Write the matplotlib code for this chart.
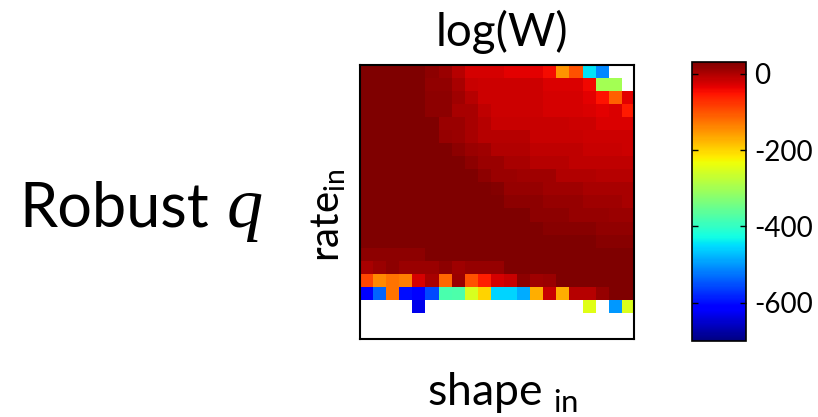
import numpy as np
import matplotlib.pyplot as plt

plt.rcParams['font.family'] = ['Lato', 'DejaVu Sans']
plt.rcParams['mathtext.fontset'] = 'custom'
plt.rcParams['mathtext.rm'] = 'Lato'

nan = np.nan

# log(W) over a 21 x 21 grid of (rate_in, shape_in); top row first
log_w = np.array([
    [28, 28, 28, 28, 28, 21, 12, -6, -25, -25, -25, -34, -34, -34, -45, -150, -100, -445, -510, nan, nan],
    [28, 28, 28, 28, 28, 16, 16, 3, -16, -21, -21, -21, -21, -21, -28, -28, -28, -43, -300, -300, nan],
    [28, 28, 28, 28, 28, 21, 21, 8, -6, -21, -21, -21, -21, -21, -25, -25, -25, -34, -50, -110, -34],
    [28, 28, 28, 28, 28, 21, 21, 3, 3, -10, -21, -21, -21, -21, -25, -25, -25, -28, -34, -28, -58],
    [28, 28, 28, 28, 28, 28, 12, 12, 3, -6, -16, -16, -16, -16, -16, -16, -21, -21, -28, -28, -28],
    [28, 28, 28, 28, 28, 28, 15, 12, 3, -6, -6, -6, -6, -16, -16, -16, -16, -21, -21, -21, -21],
    [28, 28, 28, 28, 28, 28, 28, 21, 12, 8, -3, -3, -3, -10, -10, -10, -10, -16, -16, -16, -21],
    [28, 28, 28, 28, 28, 28, 28, 28, 21, 12, 12, 3, 3, -6, -6, -6, -10, -10, -10, -10, -10],
    [28, 28, 28, 28, 28, 28, 28, 28, 28, 21, 12, 12, 8, 8, 8, -3, -3, -3, -6, -6, -6],
    [28, 28, 28, 28, 28, 28, 28, 28, 28, 28, 26, 15, 15, 15, 8, 8, 8, 3, 3, 3, 3],
    [28, 28, 28, 28, 28, 28, 28, 28, 28, 28, 28, 21, 21, 21, 15, 15, 15, 8, 8, 8, 3],
    [28, 28, 28, 28, 28, 28, 28, 28, 28, 28, 28, 28, 28, 21, 21, 21, 15, 15, 15, 12, 12],
    [28, 28, 28, 28, 28, 28, 28, 28, 28, 28, 28, 28, 28, 28, 24, 24, 24, 24, 17, 17, 17],
    [28, 28, 28, 28, 28, 28, 28, 28, 28, 28, 28, 28, 28, 28, 28, 28, 28, 28, 22, 22, 22],
    [21, 21, 21, 21, 21, 28, 28, 28, 28, 28, 28, 28, 28, 28, 28, 28, 28, 28, 28, 28, 28],
    [3, 12, 21, 12, 12, 12, 21, 8, 15, 15, 15, 28, 28, 28, 28, 28, 28, 28, 28, 28, 28],
    [-90, -143, -125, -134, -25, 3, -116, 12, -100, -60, -25, -16, 21, 8, 12, 28, 28, 28, 28, 28, 28],
    [-610, -535, -125, -600, -615, -555, -380, -375, -255, -200, -455, -455, -485, -170, -16, -170, -6, -6, 15, 28, 28],
    [nan, nan, nan, nan, -630, nan, nan, nan, nan, nan, nan, nan, nan, nan, nan, nan, nan, -245, nan, -500, -250],
    [nan] * 21,
    [nan] * 21,
])

cbar_ticks = [0, -200, -400, -600]
vmin, vmax = -700, 30

fig = plt.figure(figsize=(8.18, 4.17), dpi=100)
ax = fig.add_axes([0.440, 0.187, 0.335, 0.657])
cax = fig.add_axes([0.846, 0.182, 0.066, 0.669])

cmap = plt.get_cmap('jet').copy()
cmap.set_bad('white')
im = ax.imshow(np.ma.masked_invalid(log_w), cmap=cmap, vmin=vmin, vmax=vmax,
               interpolation='nearest', aspect='auto')
ax.set_xticks([])
ax.set_yticks([])
for s in ax.spines.values():
    s.set_linewidth(1.5)

ax.set_title('log(W)', fontsize=33, pad=14, x=0.52)
ax.set_xlabel('shape $_{\\mathrm{in}}$', fontsize=32)
ax.xaxis.set_label_coords(0.52, -0.112)
ax.set_ylabel('rate$_{\\mathrm{in}}$', fontsize=29)
ax.yaxis.set_label_coords(-0.045, 0.45)

cb = fig.colorbar(im, cax=cax, ticks=cbar_ticks)
cb.outline.set_linewidth(1.2)
cax.yaxis.set_ticks_position('both')
cax.tick_params(direction='in', length=4, width=1, labelsize=20, pad=6)
cax.set_yticklabels([str(t) for t in cbar_ticks])

fig.text(0.024, 0.456, 'Robust', fontsize=44, va='baseline', ha='left')
fig.text(0.277, 0.456, 'q', fontsize=52, va='baseline', ha='left',
         family='Liberation Serif', style='italic')

fig.savefig('out.png', dpi=100)
